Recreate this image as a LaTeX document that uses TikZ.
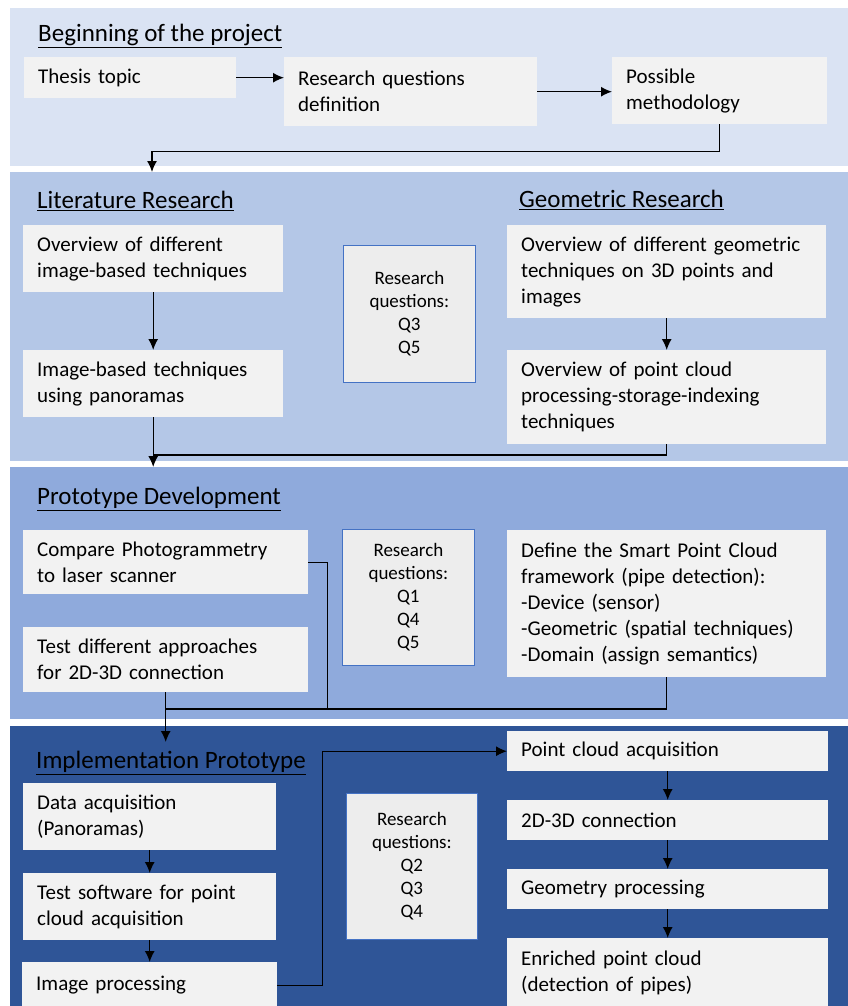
\documentclass[tikz,border=0pt]{standalone}
\usepackage{fontspec}
\setmainfont{Carlito}
\usetikzlibrary{arrows.meta}
\definecolor{bandA}{HTML}{DAE3F3}
\definecolor{bandB}{HTML}{B4C7E7}
\definecolor{bandC}{HTML}{8FAADC}
\definecolor{bandD}{HTML}{2F5597}
\definecolor{boxgray}{HTML}{F2F2F2}
\definecolor{rqgray}{HTML}{EDEDED}
\definecolor{rqblue}{HTML}{4472C4}
\begin{document}
\begin{tikzpicture}[>={Latex[length=11pt,width=10pt]}, x=1pt, y=-1pt,
	taskbox/.style={fill=boxgray, anchor=north west, align=left, inner xsep=14pt, inner ysep=0pt, font=\fontsize{21}{26}\selectfont},
	rqbox/.style={fill=rqgray, draw=rqblue, line width=0.8pt, anchor=north west, align=center, inner sep=0pt, font=\fontsize{19}{23}\selectfont},
	phase/.style={anchor=west, inner sep=0pt, font=\fontsize{25}{28}\selectfont},
	link/.style={line width=1.3pt}]
		\useasboundingbox (0,0) rectangle (848,1006);

		% 1. Background bands
		\fill[bandA] (10,8) rectangle (848,166);
		\fill[bandB] (10,172) rectangle (848,461);
		\fill[bandC] (10,467) rectangle (848,719);
		\fill[bandD] (10,726) rectangle (848,1006);

		% 2. Beginning of the project
		\node[phase] (begin) at (38,36) {\underline{Beginning of the project}};
		\node[taskbox, text width=184pt, minimum height=41pt] (thesis) at (24,57) {Thesis topic};
		\node[taskbox, text width=225pt, minimum height=69pt] (rqdef) at (284,57) {Research questions\\definition};
		\node[taskbox, text width=187pt, minimum height=67pt] (method) at (612,57) {Possible\\methodology};

		\draw[->, link] (thesis.east) -- (thesis.east -| rqdef.west);
		\draw[->, link] (rqdef.east) -- (rqdef.east -| method.west);
		\coordinate (in2) at (152,172);
		\draw[->, link] (method.south) -- ++(0,27) -| (in2);

		% 3. Literature and Geometric Research
		\node[phase] (lit) at (37,201) {\underline{Literature Research}};
		\node[phase] (geo) at (519,200) {\underline{Geometric Research}};
		\node[taskbox, text width=232pt, minimum height=67pt] (litA) at (23,225) {Overview of different\\image-based techniques};
		\node[taskbox, text width=232pt, minimum height=67pt] (litB) at (23,350) {Image-based techniques\\using panoramas};
		\node[rqbox, minimum width=132pt, minimum height=137pt] (rqA) at (343,245) {Research\\questions:\\Q3\\Q5};
		\node[taskbox, text width=291pt, minimum height=93pt] (geoA) at (507,225) {Overview of different geometric\\techniques on 3D points and\\images};
		\node[taskbox, text width=291pt, minimum height=94pt] (geoB) at (507,350) {Overview of point cloud\\processing-storage-indexing\\techniques};

		\draw[->, link] (litA) -- (litB);
		\draw[->, link] (geoA) -- (geoB);
		\coordinate (join2) at (litB.south |- 0,455);
		\coordinate (in3) at (litB.south |- 0,467);
		\draw[->, link] (litB.south) -- (in3);
		\draw[link] (geoB.south) |- (join2);

		% 4. Prototype Development
		\node[phase] (proto) at (37,499) {\underline{Prototype Development}};
		\node[taskbox, text width=257pt, minimum height=64pt] (comp) at (23,530) {Compare Photogrammetry\\to laser scanner};
		\node[taskbox, text width=257pt, minimum height=65pt] (test) at (23,627) {Test different approaches\\for 2D-3D connection};
		\node[rqbox, minimum width=132pt, minimum height=136pt] (rqB) at (342,529) {Research\\questions:\\Q1\\Q4\\Q5};
		\node[taskbox, text width=291pt, minimum height=147pt] (define) at (507,530) {Define the Smart Point Cloud\\framework (pipe detection):\\-Device (sensor)\\-Geometric (spatial techniques)\\-Domain (assign semantics)};

		\coordinate (join3) at (test.south |- 0,709);
		\coordinate (in4) at (test.south |- 0,742);
		\draw[link] (comp.east) -- ++(19,0) |- (join3);
		\draw[link] (define.south) |- (join3);
		\draw[->, link] (test.south) -- (in4);

		% 5. Implementation Prototype
		\node[phase] (impl) at (36,763) {\underline{Implementation Prototype}};
		\node[taskbox, text width=225pt, minimum height=67pt] (data) at (23,783) {Data acquisition\\(Panoramas)};
		\node[taskbox, text width=225pt, minimum height=67pt] (soft) at (23,873) {Test software for point\\cloud acquisition};
		\node[taskbox, text width=227pt, minimum height=46pt] (imgp) at (22,962) {Image processing};
		\node[rqbox, minimum width=131pt, minimum height=146pt] (rqC) at (346,793) {Research\\questions:\\Q2\\Q3\\Q4};
		\node[taskbox, text width=293pt, minimum height=40pt] (pca) at (507,731) {Point cloud acquisition};
		\node[taskbox, text width=293pt, minimum height=40pt] (conn) at (507,800) {2D-3D connection};
		\node[taskbox, text width=293pt, minimum height=40pt] (gproc) at (507,869) {Geometry processing};
		\node[taskbox, text width=293pt, minimum height=69pt] (enr) at (507,938) {Enriched point cloud\\(detection of pipes)};

		\draw[->, link] (data) -- (soft);
		\draw[->, link] (soft) -- (imgp);
		\draw[->, link] (imgp.east) -- ++(45,0) |- (pca.west);
		\draw[->, link] (pca) -- (conn);
		\draw[->, link] (conn) -- (gproc);
		\draw[->, link] (gproc) -- (enr);
	\end{tikzpicture}
\end{document}
